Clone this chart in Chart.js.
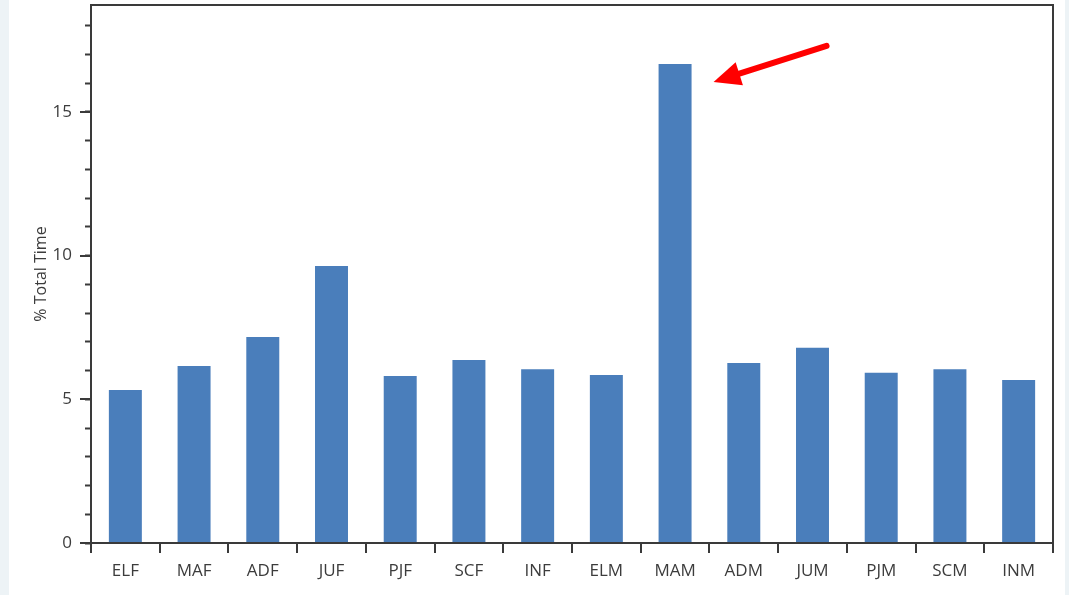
<!DOCTYPE html>
<html>
<head>
<meta charset="utf-8">
<script src="https://cdn.jsdelivr.net/npm/chart.js@4"></script>
<style>
  html, body { margin: 0; padding: 0; width: 1069px; height: 595px; background: #edf3f6; overflow: hidden; }
  #wrap { position: absolute; left: 9px; top: 0; width: 1056px; height: 595px; background: #ffffff; }
</style>
</head>
<body>
<div id="wrap"><canvas id="c"></canvas></div>
<script>
const categories = ["ELF", "MAF", "ADF", "JUF", "PJF", "SCF", "INF", "ELM", "MAM", "ADM", "JUM", "PJM", "SCM", "INM"];
const totalTimePct = [5.32, 6.16, 7.17, 9.64, 5.81, 6.37, 6.05, 5.85, 16.67, 6.26, 6.79, 5.92, 6.05, 5.67];
const yTickValues = [0, 5, 10, 15];
const highlightIndex = 8;

const FONT = '"Open Sans", "Noto Sans", sans-serif';
const AXIS = '#3a3a3a';
const TEXT = '#3c3c3c';

const decorPlugin = {
  id: 'decor',
  afterDraw(chart) {
    const ctx = chart.ctx;
    const a = chart.chartArea;
    const y = chart.scales.y;
    ctx.save();
    ctx.strokeStyle = AXIS;
    ctx.lineWidth = 2;
    yTickValues.forEach(v => {
      const py = Math.round(y.getPixelForValue(v));
      ctx.beginPath();
      ctx.moveTo(a.left - 11, py);
      ctx.lineTo(a.left, py);
      ctx.stroke();
    });
    ctx.strokeRect(a.left, a.top, a.right - a.left, a.bottom - a.top);
    const bar = chart.getDatasetMeta(0).data[highlightIndex];
    const tipX = bar.x + bar.width / 2 + 22;
    const tipY = bar.y + 18;
    const tailX = tipX + 113;
    const tailY = tipY - 36;
    const ang = Math.atan2(tailY - tipY, tailX - tipX);
    const headLen = 27, headHalf = 12;
    const bx = tipX + Math.cos(ang) * headLen;
    const by = tipY + Math.sin(ang) * headLen;
    ctx.strokeStyle = '#ff0000';
    ctx.fillStyle = '#ff0000';
    ctx.lineWidth = 6;
    ctx.lineCap = 'round';
    ctx.beginPath();
    ctx.moveTo(tailX, tailY);
    ctx.lineTo(bx - Math.cos(ang) * 4, by - Math.sin(ang) * 4);
    ctx.stroke();
    ctx.beginPath();
    ctx.moveTo(tipX, tipY);
    ctx.lineTo(bx + Math.cos(ang + Math.PI / 2) * headHalf, by + Math.sin(ang + Math.PI / 2) * headHalf);
    ctx.lineTo(bx - Math.cos(ang + Math.PI / 2) * headHalf, by - Math.sin(ang + Math.PI / 2) * headHalf);
    ctx.closePath();
    ctx.fill();
    ctx.restore();
  }
};

new Chart(document.getElementById('c'), {
  type: 'bar',
  data: {
    labels: categories,
    datasets: [{
      data: totalTimePct,
      backgroundColor: '#4a7ebb',
      borderWidth: 0,
      barPercentage: 0.96,
      categoryPercentage: 0.5
    }]
  },
  options: {
    responsive: true,
    maintainAspectRatio: false,
    animation: false,
    layout: { padding: { left: 0, right: 12, top: 5, bottom: 0 } },
    plugins: { legend: { display: false }, tooltip: { enabled: false } },
    scales: {
      x: {
        type: 'category',
        offset: true,
        afterFit(s) { s.height = 52; s.paddingLeft = 0; s.paddingRight = 0; },
        grid: {
          offset: true,
          drawOnChartArea: false,
          drawTicks: true,
          tickLength: 10,
          color: AXIS,
          lineWidth: 2
        },
        border: { display: true, color: AXIS, width: 2 },
        ticks: { color: TEXT, font: { family: FONT, size: 17 }, padding: 8, maxRotation: 0, autoSkip: false }
      },
      y: {
        min: 0,
        max: 18.72,
        afterFit(s) { s.width = 82; s.paddingTop = 0; s.paddingBottom = 0; },
        grid: {
          drawOnChartArea: false,
          drawTicks: true,
          tickLength: 6,
          tickWidth: 2,
          tickColor: (c) => (c.tick && Number.isInteger(c.tick.value)) ? AXIS : 'rgba(0,0,0,0)'
        },
        border: { display: true, color: AXIS, width: 2 },
        ticks: {
          stepSize: 1,
          color: TEXT,
          font: { family: FONT, size: 17 },
          padding: 13,
          callback: (v) => yTickValues.includes(v) ? String(v) : ''
        },
        title: {
          display: true,
          text: '% Total Time',
          color: TEXT,
          font: { family: FONT, size: 16 },
          padding: { top: 23, bottom: 0 }
        }
      }
    }
  },
  plugins: [decorPlugin]
});
</script>
</body>
</html>
